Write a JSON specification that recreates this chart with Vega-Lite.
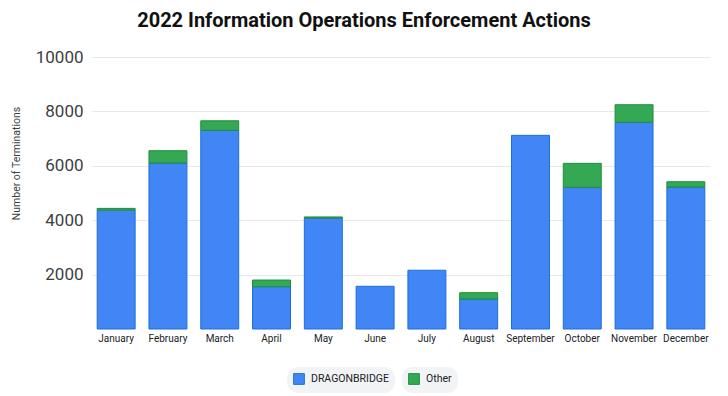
{
  "$schema": "https://vega.github.io/schema/vega-lite/v6.json",
  "autosize": "none",
  "width": 618,
  "height": 272,
  "padding": {"left": 92, "top": 57, "right": 18, "bottom": 67},
  "background": "white",
  "title": {
    "text": "2022 Information Operations Enforcement Actions",
    "font": "Roboto",
    "fontSize": 20,
    "fontWeight": "bold",
    "color": "#111111",
    "anchor": "middle",
    "dx": -37,
    "offset": 17
  },
  "data": {
    "values": [
      {"month": "January", "series": "DRAGONBRIDGE", "value": 4370},
      {"month": "January", "series": "Other", "value": 65},
      {"month": "February", "series": "DRAGONBRIDGE", "value": 6100},
      {"month": "February", "series": "Other", "value": 455},
      {"month": "March", "series": "DRAGONBRIDGE", "value": 7300},
      {"month": "March", "series": "Other", "value": 355},
      {"month": "April", "series": "DRAGONBRIDGE", "value": 1555},
      {"month": "April", "series": "Other", "value": 245},
      {"month": "May", "series": "DRAGONBRIDGE", "value": 4080},
      {"month": "May", "series": "Other", "value": 40},
      {"month": "June", "series": "DRAGONBRIDGE", "value": 1570},
      {"month": "June", "series": "Other", "value": 0},
      {"month": "July", "series": "DRAGONBRIDGE", "value": 2160},
      {"month": "July", "series": "Other", "value": 0},
      {"month": "August", "series": "DRAGONBRIDGE", "value": 1100},
      {"month": "August", "series": "Other", "value": 235},
      {"month": "September", "series": "DRAGONBRIDGE", "value": 7120},
      {"month": "September", "series": "Other", "value": 0},
      {"month": "October", "series": "DRAGONBRIDGE", "value": 5210},
      {"month": "October", "series": "Other", "value": 880},
      {"month": "November", "series": "DRAGONBRIDGE", "value": 7600},
      {"month": "November", "series": "Other", "value": 645},
      {"month": "December", "series": "DRAGONBRIDGE", "value": 5220},
      {"month": "December", "series": "Other", "value": 195}
    ]
  },
  "transform": [
    {"stack": "value", "groupby": ["month"], "sort": [{"field": "series", "order": "ascending"}], "as": ["v0", "v1"]}
  ],
  "encoding": {
    "x": {
      "field": "month",
      "type": "nominal",
      "sort": null,
      "scale": {"paddingInner": 0.267, "paddingOuter": 0.1},
      "axis": {
        "title": null,
        "labelAngle": 0,
        "labelFont": "Roboto",
        "labelFontSize": 10,
        "labelColor": "#202124",
        "labelPadding": 4,
        "ticks": false,
        "domain": false
      }
    },
    "y": {
      "field": "v1",
      "type": "quantitative",
      "scale": {"domain": [0, 10000], "nice": false},
      "axis": {
        "title": "Number of Terminations",
        "titleFont": "Roboto",
        "titleFontSize": 10.5,
        "titleFontWeight": "normal",
        "titleColor": "#3c4043",
        "titleX": -76,
        "titleY": 106,
        "titleAngle": -90,
        "titleAlign": "center",
        "titleBaseline": "middle",
        "values": [2000, 4000, 6000, 8000, 10000],
        "format": "d",
        "labelFont": "Roboto",
        "labelFontSize": 17,
        "labelColor": "#3c4043",
        "labelPadding": 9,
        "ticks": false,
        "domain": false,
        "grid": true,
        "gridColor": "#e8e8e8",
        "gridWidth": 1
      }
    },
    "y2": {"field": "v0"}
  },
  "layer": [
    {
      "transform": [{"filter": "datum.series === 'DRAGONBRIDGE'"}],
      "mark": {"type": "bar", "stroke": "#1a6fe0", "strokeWidth": 1, "fillOpacity": 1},
      "encoding": {
        "color": {
          "field": "series",
          "type": "nominal",
          "scale": {"domain": ["DRAGONBRIDGE"], "range": ["#4285f4"]},
          "legend": {"title": null, "orient": "none", "legendX": 195, "legendY": 310}
        }
      }
    },
    {
      "transform": [{"filter": "datum.series === 'Other' && datum.value > 0"}],
      "mark": {"type": "bar", "stroke": "#1e8e3e", "strokeWidth": 1, "fillOpacity": 1},
      "encoding": {
        "color": {
          "field": "series",
          "type": "nominal",
          "scale": {"domain": ["Other"], "range": ["#34a853"]},
          "legend": {"title": null, "orient": "none", "legendX": 310, "legendY": 310}
        }
      }
    }
  ],
  "resolve": {"scale": {"color": "independent"}, "legend": {"color": "independent"}},
  "config": {
    "view": {"stroke": null},
    "legend": {
      "direction": "horizontal",
      "fillColor": "#f1f3f4",
      "cornerRadius": 11,
      "padding": 6,
      "labelFont": "Roboto",
      "labelFontSize": 10.5,
      "labelColor": "#202124",
      "labelOffset": 6,
      "symbolType": "square",
      "symbolSize": 115,
      "symbolStrokeWidth": 1
    }
  }
}
